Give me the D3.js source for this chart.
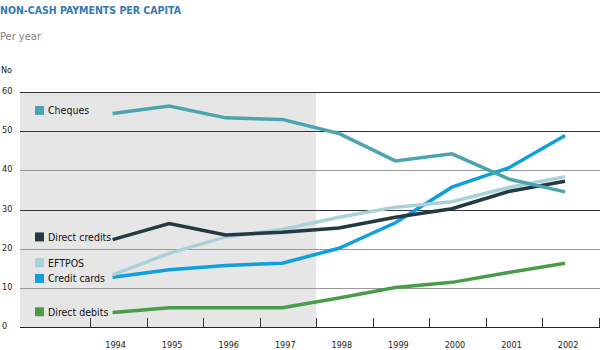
<!DOCTYPE html>
<html>
<head>
<script src="https://d3js.org/d3.v7.min.js"></script>
<style>
  body { margin: 0; background: #fff; }
  text { font-family: "DejaVu Sans Condensed", "Liberation Sans Narrow", sans-serif; }
</style>
</head>
<body>
<div id="chart"></div>
<script>
const years = [1994, 1995, 1996, 1997, 1998, 1999, 2000, 2001, 2002]
const cheques = [54.5, 56.4, 53.4, 53.0, 49.4, 42.4, 44.2, 37.8, 34.5]
const directCredits = [22.3, 26.4, 23.5, 24.2, 25.3, 28.0, 30.2, 34.6, 37.2]
const eftpos = [13.3, 18.8, 23.0, 24.9, 28.0, 30.6, 32.0, 35.6, 38.4]
const creditCards = [12.7, 14.6, 15.7, 16.3, 20.1, 26.6, 35.7, 40.6, 48.9]
const directDebits = [3.7, 4.9, 4.9, 4.9, 7.4, 10.1, 11.4, 13.9, 16.3]
const yTicks = [0, 10, 20, 30, 40, 50, 60]
const darkGrid = [30, 50, 60]

const series = [
  {name: 'Cheques', values: cheques, colour: '#4aa5ae', legendY: 55.3},
  {name: 'Direct credits', values: directCredits, colour: '#243a42', legendY: 23.0},
  {name: 'EFTPOS', values: eftpos, colour: '#a9d1d8', legendY: 16.4},
  {name: 'Credit cards', values: creditCards, colour: '#0f9fdc', legendY: 12.4},
  {name: 'Direct debits', values: directDebits, colour: '#4a9d48', legendY: 3.9}
]

const w = 600
const h = 350
const plotLeft = 20
const plotTop = 92
const plotBottom = 327

const svg = d3.select('#chart').append('svg')
  .attr('width', w)
  .attr('height', h)

// band per year, tick marks at band edges
const xBand = d3.scaleBand()
  .domain(years)
  .range([90, 599])
  .paddingInner(0)
const xPoint = d => xBand(d) + xBand.bandwidth() * 0.4

const yScale = d3.scaleLinear()
  .domain([0, 60])
  .range([plotBottom, plotTop])

// shaded period
svg.append('rect')
  .attr('x', plotLeft)
  .attr('y', plotTop)
  .attr('width', xBand(1998) - plotLeft)
  .attr('height', plotBottom - plotTop)
  .style('fill', '#e6e6e6')

// gridlines
svg.append('g').selectAll('line')
  .data(yTicks.filter(t => t > 0))
  .enter()
  .append('line')
  .attr('x1', plotLeft)
  .attr('x2', w)
  .attr('y1', d => Math.round(yScale(d)) + 0.5)
  .attr('y2', d => Math.round(yScale(d)) + 0.5)
  .style('stroke', d => darkGrid.includes(d) ? '#333' : '#9a9a9a')
  .style('stroke-width', 1)

// y labels
svg.append('g').selectAll('text')
  .data(yTicks)
  .enter()
  .append('text')
  .attr('x', 2)
  .attr('y', d => yScale(d) + 2)
  .style('font-size', '9px')
  .style('fill', '#222')
  .text(d => d)

// x axis with ticks pointing up
svg.append('line')
  .attr('x1', plotLeft).attr('x2', w)
  .attr('y1', plotBottom + 0.5).attr('y2', plotBottom + 0.5)
  .style('stroke', '#222')
const tickXs = years.map(d => xBand(d)).concat([xBand(2002) + xBand.bandwidth()])
svg.append('g').selectAll('line')
  .data(tickXs)
  .enter()
  .append('line')
  .attr('x1', d => Math.round(d) + 0.5)
  .attr('x2', d => Math.round(d) + 0.5)
  .attr('y1', plotBottom - 9)
  .attr('y2', plotBottom)
  .style('stroke', '#333')

svg.append('g').selectAll('text')
  .data(years)
  .enter()
  .append('text')
  .attr('x', d => xPoint(d) + 3)
  .attr('y', 348)
  .attr('text-anchor', 'middle')
  .style('font-size', '9px')
  .style('fill', '#222')
  .text(d => d)

// lines
const line = d3.line()
  .x((d, i) => xPoint(years[i]))
  .y(d => yScale(d))

svg.append('g').selectAll('path')
  .data(series.slice().reverse())
  .enter()
  .append('path')
  .attr('d', d => line(d.values))
  .style('fill', 'none')
  .style('stroke', d => d.colour)
  .style('stroke-width', 3.5)

// legend labels
const legend = svg.append('g').selectAll('g')
  .data(series)
  .enter()
  .append('g')
  .attr('transform', d => 'translate(35,' + yScale(d.legendY) + ')')
legend.append('rect')
  .attr('x', 0)
  .attr('y', -4.5)
  .attr('width', 9)
  .attr('height', 9)
  .style('fill', d => d.colour)
legend.append('text')
  .attr('x', 13)
  .attr('y', 4)
  .style('font-size', '10.5px')
  .style('fill', '#111')
  .text(d => d.name)

// titles
svg.append('text')
  .attr('x', 0)
  .attr('y', 14)
  .style('font-size', '10.5px')
  .style('font-weight', 'bold')
  .style('fill', '#3579b3')
  .text('NON-CASH PAYMENTS PER CAPITA')
svg.append('text')
  .attr('x', 0)
  .attr('y', 40)
  .style('font-size', '11px')
  .style('fill', '#808080')
  .text('Per year')
svg.append('text')
  .attr('x', 1)
  .attr('y', 73)
  .style('font-size', '9px')
  .style('fill', '#111')
  .text('No')
</script>
</body>
</html>
